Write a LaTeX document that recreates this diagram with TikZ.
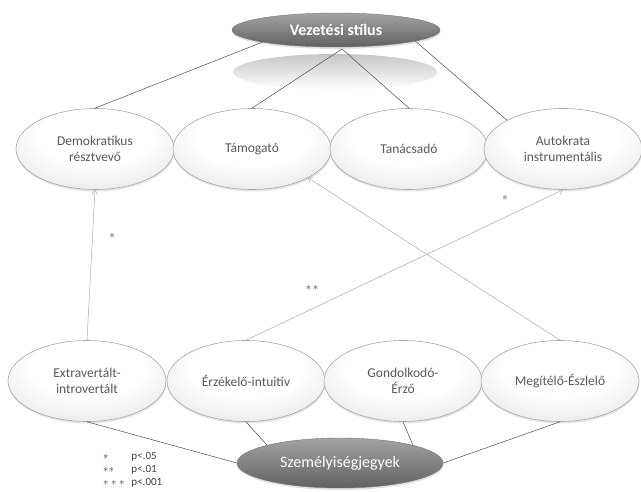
\documentclass[tikz,border=0pt]{standalone}
\usepackage{fontspec}
\setmainfont{Carlito}
\usetikzlibrary{shapes.geometric,shadows,arrows.meta}
\definecolor{txtgray}{HTML}{595959}
\definecolor{rimgray}{HTML}{A6A6A6}
\definecolor{linegray}{HTML}{4D4D4D}
\definecolor{arrowgray}{HTML}{ABABAB}
\pgfdeclareradialshading{traitshade}{\pgfpoint{0bp}{12bp}}{color(0bp)=(white); color(18bp)=(white); color(38bp)=(black!12); color(50bp)=(black!26)}
\begin{document}
\begin{tikzpicture}[x=1pt,y=-1pt,
    trait/.style={ellipse, draw=rimgray, line width=0.6pt, shading=traitshade,
      minimum width=158pt, minimum height=81pt, inner sep=0pt, align=center, text=txtgray,
      font=\fontsize{13.5}{16}\selectfont, drop shadow={opacity=0.2, shadow xshift=0.5pt, shadow yshift=-2pt}},
    head/.style={ellipse, draw=black!55, top color=black!36, bottom color=black!62, inner sep=0pt,
      text=white, drop shadow={opacity=0.25, shadow xshift=0.5pt, shadow yshift=-2pt}},
    link/.style={linegray, line width=0.5pt},
    effect/.style={arrowgray, line width=0.5pt, -{Straight Barb[length=4pt,width=6pt]}},
    starnote/.style={text=black!75, font=\fontsize{11}{13}\selectfont, inner sep=0pt}]
    \useasboundingbox (0,0) rectangle (641,492);
    \shade[top color=black!22, bottom color=white] (335,72) ellipse (102pt and 18pt);
    \node[head, minimum width=208pt, minimum height=34pt, font=\bfseries\fontsize{16}{19}\selectfont] (vez) at (336,30) {Vezetési stílus};
    \node[trait] (demo) at (95,149) {Demokratikus\\résztvevő};
    \node[trait] (tam) at (252,149) {Támogató};
    \node[trait] (tan) at (409,149) {Tanácsadó};
    \node[trait] (aut) at (563,149) {Autokrata\\instrumentális};
    \node[trait] (ext) at (87,381) {Extravertált-\\introvertált};
    \node[trait] (erz) at (246,381) {Érzékelő-intuitív};
    \node[trait] (gon) at (403,381) {Gondolkodó-\\Érző};
    \node[trait] (meg) at (560,381) {Megítélő-Észlelő};
    \node[head, minimum width=206pt, minimum height=50pt, font=\fontsize{16}{19}\selectfont] (szem) at (340,463) {Személyiségjegyek};
    \coordinate (apex) at (342,49);
    \draw[link] (demo.north) -- (vez.south west);
    \draw[link] (tam.north) -- (apex) -- (tan.north);
    \draw[link] (aut.north west) -- (vez.-8);
    \draw[link] (ext.south) -- (szem.west);
    \draw[link] (erz.south) -- (szem.north west);
    \draw[link] (gon.south) -- (szem.north east);
    \draw[link] (meg.south) -- (szem.east);
    \draw[effect] (ext.north) -- (demo.south);
    \draw[effect] (erz.north) -- (aut.south);
    \draw[effect] (meg.north) -- (tam.south east);
    \node[starnote] (p1) at (112,236) {$\ast$};
    \node[starnote] (p2) at (505,198) {$\ast$};
    \node[starnote] (p3) at (312,288) {$\ast\,\ast$};
    \node[starnote, anchor=north west] (key) at (103,450) {\begin{tabular}{@{}l@{\hspace{7pt}}l@{}}
      $\ast$ & p<.05\\ $\ast\ast$ & p<.01\\ $\ast\ast\ast$ & p<.001\end{tabular}};
\end{tikzpicture}
\end{document}
